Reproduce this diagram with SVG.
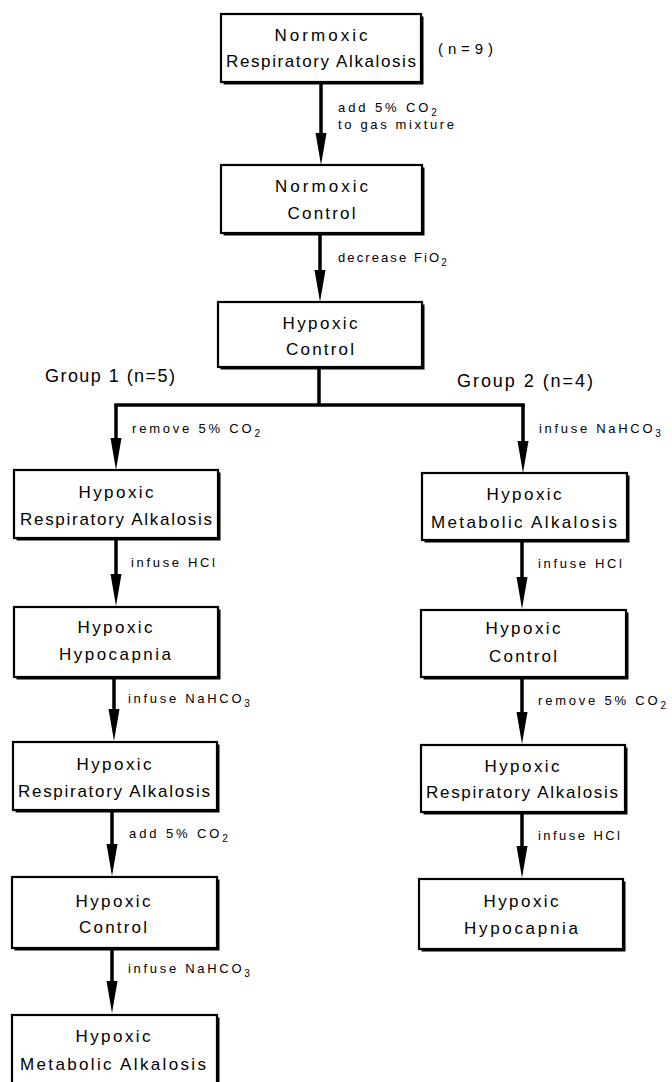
<svg xmlns="http://www.w3.org/2000/svg" width="672" height="1082" viewBox="0 0 672 1082">
<style>
.box{fill:#fff;stroke:#000;stroke-width:2.2}
.sh{fill:#000}
.nt{font-family:"Liberation Sans",Arial,sans-serif;font-size:17px;fill:#000;text-anchor:middle}
.lb{font-family:"Liberation Sans",Arial,sans-serif;font-size:13px;fill:#000}
.gl{font-family:"Liberation Sans",Arial,sans-serif;font-size:18px;fill:#000}
.sub{font-size:10px}
.ln{stroke:#000;stroke-width:3.5;fill:none}
.ar{stroke:#000;stroke-width:3.5;fill:none;marker-end:url(#ah)}
</style>
<defs>
<marker id="ah" markerUnits="userSpaceOnUse" markerWidth="34" markerHeight="12" refX="12" refY="6" orient="auto">
<path d="M0,0.5 L32,6 L0,11.5 Z" fill="#000"/>
</marker>
</defs>
<g id="connectors">
<path class="ar" d="M321,82 V145"/>
<path class="ar" d="M320,233 V282"/>
<path class="ln" d="M319,367 V405"/>
<path class="ln" d="M114.3,405 H524.7"/>
<path class="ar" d="M116,404 V450"/>
<path class="ar" d="M523,404 V453"/>
<path class="ar" d="M116,538 V586"/>
<path class="ar" d="M114,677 V721"/>
<path class="ar" d="M112,810 V856"/>
<path class="ar" d="M112,948 V993"/>
<path class="ar" d="M522,540 V589"/>
<path class="ar" d="M522,677 V724"/>
<path class="ar" d="M522,812 V858"/>
</g>
<g id="labels">
<text class="lb" x="338" y="112" letter-spacing="2.9">add 5% CO<tspan class="sub" dy="4">2</tspan></text>
<text class="lb" x="338" y="129" textLength="116" lengthAdjust="spacing">to gas mixture</text>
<text class="lb" x="438" y="54" style="font-size:15px" textLength="55" lengthAdjust="spacing">(n=9)</text>
<text class="lb" x="338" y="262" letter-spacing="2.1">decrease FiO<tspan class="sub" dy="4">2</tspan></text>
<text class="gl" x="45" y="382" textLength="130" lengthAdjust="spacing">Group 1 (n=5)</text>
<text class="gl" x="457" y="387" textLength="136" lengthAdjust="spacing">Group 2 (n=4)</text>
<text class="lb" x="132" y="433" letter-spacing="2.8">remove 5% CO<tspan class="sub" dy="4">2</tspan></text>
<text class="lb" x="539" y="433" letter-spacing="2.7">infuse NaHCO<tspan class="sub" dy="4">3</tspan></text>
<text class="lb" x="131" y="567" textLength="84" lengthAdjust="spacing">infuse HCl</text>
<text class="lb" x="128" y="703" letter-spacing="2.7">infuse NaHCO<tspan class="sub" dy="4">3</tspan></text>
<text class="lb" x="129" y="838" letter-spacing="2.9">add 5% CO<tspan class="sub" dy="4">2</tspan></text>
<text class="lb" x="128" y="973" letter-spacing="2.7">infuse NaHCO<tspan class="sub" dy="4">3</tspan></text>
<text class="lb" x="538" y="568" textLength="84" lengthAdjust="spacing">infuse HCl</text>
<text class="lb" x="538" y="705" letter-spacing="2.8">remove 5% CO<tspan class="sub" dy="4">2</tspan></text>
<text class="lb" x="538" y="840" textLength="82" lengthAdjust="spacing">infuse HCl</text>
</g>
<g id="n1">
<rect class="sh" x="223.5" y="16.5" width="200" height="68"/>
<rect class="box" x="221" y="14" width="200" height="68"/>
<text class="nt" x="321" y="41" textLength="93" lengthAdjust="spacing">Normoxic</text>
<text class="nt" x="321" y="67" textLength="190" lengthAdjust="spacing">Respiratory Alkalosis</text>
</g>
<g id="n2">
<rect class="sh" x="223.5" y="167.5" width="201" height="68"/>
<rect class="box" x="221" y="165" width="201" height="68"/>
<text class="nt" x="321.5" y="192" textLength="93" lengthAdjust="spacing">Normoxic</text>
<text class="nt" x="321.5" y="219" textLength="68" lengthAdjust="spacing">Control</text>
</g>
<g id="n3">
<rect class="sh" x="220.5" y="304.5" width="204" height="65"/>
<rect class="box" x="218" y="302" width="204" height="65"/>
<text class="nt" x="320" y="329" textLength="75" lengthAdjust="spacing">Hypoxic</text>
<text class="nt" x="320" y="355" textLength="68" lengthAdjust="spacing">Control</text>
</g>
<g id="l1">
<rect class="sh" x="16.5" y="472.5" width="204" height="68"/>
<rect class="box" x="14" y="470" width="204" height="68"/>
<text class="nt" x="116" y="498" textLength="75" lengthAdjust="spacing">Hypoxic</text>
<text class="nt" x="116" y="525" textLength="192" lengthAdjust="spacing">Respiratory Alkalosis</text>
</g>
<g id="l2">
<rect class="sh" x="16.5" y="609.5" width="204" height="70"/>
<rect class="box" x="14" y="607" width="204" height="70"/>
<text class="nt" x="115" y="633" textLength="75" lengthAdjust="spacing">Hypoxic</text>
<text class="nt" x="115" y="660" textLength="112" lengthAdjust="spacing">Hypocapnia</text>
</g>
<g id="l3">
<rect class="sh" x="15.5" y="744.5" width="204" height="68"/>
<rect class="box" x="13" y="742" width="204" height="68"/>
<text class="nt" x="114" y="770" textLength="75" lengthAdjust="spacing">Hypoxic</text>
<text class="nt" x="114" y="797" textLength="192" lengthAdjust="spacing">Respiratory Alkalosis</text>
</g>
<g id="l4">
<rect class="sh" x="14.5" y="879.5" width="205" height="71"/>
<rect class="box" x="12" y="877" width="205" height="71"/>
<text class="nt" x="113" y="907" textLength="75" lengthAdjust="spacing">Hypoxic</text>
<text class="nt" x="113" y="933" textLength="68" lengthAdjust="spacing">Control</text>
</g>
<g id="l5">
<rect class="sh" x="14.5" y="1017.5" width="205" height="80"/>
<rect class="box" x="12" y="1015" width="205" height="80"/>
<text class="nt" x="113" y="1042" textLength="75" lengthAdjust="spacing">Hypoxic</text>
<text class="nt" x="113" y="1070" textLength="186" lengthAdjust="spacing">Metabolic Alkalosis</text>
</g>
<g id="r1">
<rect class="sh" x="424.5" y="475.5" width="205" height="67"/>
<rect class="box" x="422" y="473" width="205" height="67"/>
<text class="nt" x="524" y="500" textLength="75" lengthAdjust="spacing">Hypoxic</text>
<text class="nt" x="524" y="528" textLength="186" lengthAdjust="spacing">Metabolic Alkalosis</text>
</g>
<g id="r2">
<rect class="sh" x="423.5" y="612.5" width="205" height="67"/>
<rect class="box" x="421" y="610" width="205" height="67"/>
<text class="nt" x="523" y="634" textLength="75" lengthAdjust="spacing">Hypoxic</text>
<text class="nt" x="523" y="662" textLength="68" lengthAdjust="spacing">Control</text>
</g>
<g id="r3">
<rect class="sh" x="423.5" y="747.5" width="204" height="67"/>
<rect class="box" x="421" y="745" width="204" height="67"/>
<text class="nt" x="522" y="772" textLength="75" lengthAdjust="spacing">Hypoxic</text>
<text class="nt" x="522" y="798" textLength="192" lengthAdjust="spacing">Respiratory Alkalosis</text>
</g>
<g id="r4">
<rect class="sh" x="421.5" y="881.5" width="204" height="70"/>
<rect class="box" x="419" y="879" width="204" height="70"/>
<text class="nt" x="521" y="907" textLength="75" lengthAdjust="spacing">Hypoxic</text>
<text class="nt" x="521" y="934" textLength="114" lengthAdjust="spacing">Hypocapnia</text>
</g>
</svg>
